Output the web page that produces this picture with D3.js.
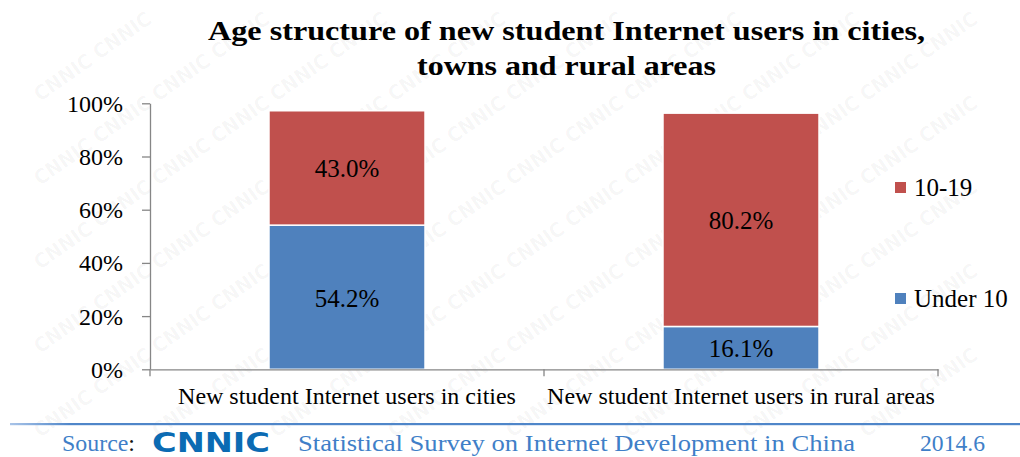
<!DOCTYPE html>
<html>
<head>
<meta charset="utf-8">
<script src="https://cdn.jsdelivr.net/npm/d3@7"></script>
<style>
  html, body { margin: 0; padding: 0; background: #fff; }
  svg { display: block; }
</style>
</head>
<body>
<svg id="chart" width="1020" height="457"></svg>
<script>
// ---- data ----
const categories = ["New student Internet users in cities", "New student Internet users in rural areas"];
const seriesNames = ["Under 10", "10-19"];
const under10 = [54.2, 16.1];
const age10to19 = [43.0, 80.2];
const yTicks = [0, 20, 40, 60, 80, 100];
const titleLines = ["Age structure of new student Internet users in cities,", "towns and rural areas"];
const sourceTitle = "Statistical Survey on Internet Development in China";
const sourceDate = "2014.6";

const colors = { "Under 10": "#4f81bd", "10-19": "#c0504d" };
const SERIF = "'Liberation Serif', 'Times New Roman', serif";
const SANS = "'DejaVu Sans', 'Liberation Sans', sans-serif";

const svg = d3.select("#chart").style("font-family", SERIF);
const W = 1020, H = 457;

// ---- faint CNNIC watermark tiles, kept fully inside the canvas ----
const wm = svg.append("g").attr("fill", "#000").attr("fill-opacity", 0.04);
const wmSpots = [];
for (let r = 0; r < 12; r++) {
  for (let c = 0; c < 12; c++) {
    const px = c * 118 + (r % 2) * 59 + 40;
    const py = r * 42 + 18;
    if (px <= W - 72 && py >= 58 && py <= H - 8) wmSpots.push([px, py]);
  }
}
wm.selectAll("text").data(wmSpots).join("text")
  .attr("transform", d => `translate(${d[0]},${d[1]}) rotate(-35)`)
  .attr("font-weight", "bold")
  .attr("font-size", 20)
  .attr("textLength", 66)
  .attr("lengthAdjust", "spacingAndGlyphs")
  .style("font-family", SANS)
  .text("CNNIC");

// ---- layout ----
const plot = { left: 150, right: 938, top: 103.3, bottom: 369.3 };

const x = d3.scaleBand().domain(categories).range([plot.left, plot.right]).padding(0);
const y = d3.scaleLinear().domain([0, 100]).range([plot.bottom, plot.top]);
const barW = x.step() * 0.396;

// ---- title ----
const title = svg.append("g").attr("font-weight", "bold").attr("font-size", 28).attr("fill", "#000");
title.append("text").attr("x", 208).attr("y", 40).style("font-family", SERIF)
  .attr("textLength", 717).attr("lengthAdjust", "spacingAndGlyphs").text(titleLines[0]);
title.append("text").attr("x", 417).attr("y", 75).style("font-family", SERIF)
  .attr("textLength", 299).attr("lengthAdjust", "spacingAndGlyphs").text(titleLines[1]);

// ---- stacked bars ----
const rows = categories.map((c, i) => ({ cat: c, "Under 10": under10[i], "10-19": age10to19[i] }));
const stacked = d3.stack().keys(seriesNames)(rows);

const barsG = svg.append("g");
stacked.forEach(layer => {
  const key = layer.key;
  const g = barsG.append("g");
  g.selectAll("rect").data(layer).join("rect")
    .attr("x", d => x(d.data.cat) + (x.step() - barW) / 2)
    .attr("y", d => y(d[1]))
    .attr("width", barW)
    .attr("height", d => y(d[0]) - y(d[1]))
    .attr("fill", colors[key])
    .attr("stroke", "#fff")
    .attr("stroke-width", 1.5);
  g.selectAll("text").data(layer).join("text")
    .attr("x", d => x(d.data.cat) + x.step() / 2)
    .attr("y", d => (y(d[0]) + y(d[1])) / 2 + 9.5)
    .attr("text-anchor", "middle")
    .attr("font-size", 25)
    .attr("fill", "#000")
    .style("font-family", SERIF)
    .text(d => d.data[key].toFixed(1) + "%");
});

// ---- y axis ----
const yAxis = svg.append("g").attr("transform", `translate(${plot.left},0)`)
  .call(d3.axisLeft(y).tickValues(yTicks).tickFormat(d => d + "%").tickSize(8).tickSizeOuter(0));
yAxis.select(".domain").attr("stroke", "#868686").attr("stroke-width", 1.3);
yAxis.selectAll(".tick line").attr("stroke", "#868686").attr("stroke-width", 1.3);
yAxis.selectAll(".tick text")
  .attr("x", -27).attr("dy", "0.33em")
  .attr("font-size", 24).attr("fill", "#000")
  .style("font-family", SERIF);

// ---- x axis ----
const xAxis = svg.append("g").attr("transform", `translate(0,${plot.bottom})`)
  .call(d3.axisBottom(x).tickSize(0).tickSizeOuter(0));
xAxis.select(".domain").attr("stroke", "#868686").attr("stroke-width", 1.3);
xAxis.selectAll(".tick text")
  .attr("y", 35).attr("dy", 0)
  .attr("font-size", 24).attr("fill", "#000")
  .style("font-family", SERIF);
// category boundary ticks
const edges = [x(categories[0]), ...categories.map(c => x(c) + x.step())];
xAxis.selectAll(".edge").data(edges).join("line").attr("class", "edge")
  .attr("x1", d => d).attr("x2", d => d).attr("y1", 0).attr("y2", 7)
  .attr("stroke", "#868686").attr("stroke-width", 1.3);

// ---- legend ----
const legendItems = ["10-19", "Under 10"];
const legend = svg.append("g").attr("transform", "translate(895,182)");
const li = legend.selectAll("g").data(legendItems).join("g")
  .attr("transform", (d, i) => `translate(0,${i * 111})`);
li.append("rect").attr("width", 11).attr("height", 11).attr("fill", d => colors[d]);
li.append("text").attr("x", 19).attr("y", 13.5).attr("font-size", 25).attr("fill", "#000")
  .style("font-family", SERIF).text(d => d);

// ---- footer ----
const grad = svg.append("defs").append("linearGradient").attr("id", "rule").attr("x1", "0").attr("x2", "1");
grad.append("stop").attr("offset", "0").attr("stop-color", "#a9c4e8");
grad.append("stop").attr("offset", "0.06").attr("stop-color", "#4f86c9");
grad.append("stop").attr("offset", "1").attr("stop-color", "#4f86c9");
svg.append("rect").attr("x", 10).attr("y", 423).attr("width", W - 10).attr("height", 2.2).attr("fill", "url(#rule)");

const foot = svg.append("g").attr("font-size", 23);
const src = foot.append("text").attr("x", 62).attr("y", 451).style("font-family", SERIF)
  .attr("textLength", 73).attr("lengthAdjust", "spacingAndGlyphs");
src.append("tspan").attr("fill", "#3f7fc8").text("Source");
src.append("tspan").attr("fill", "#111").text(":");

foot.append("text").attr("x", 152).attr("y", 452)
  .attr("font-size", 27).attr("font-weight", "bold")
  .style("font-family", SANS)
  .attr("fill", "#0b6bb3")
  .attr("textLength", 118).attr("lengthAdjust", "spacingAndGlyphs")
  .text("CNNIC");

foot.append("text").attr("x", 298).attr("y", 451).attr("fill", "#3f7fc8").style("font-family", SERIF)
  .attr("textLength", 557).attr("lengthAdjust", "spacingAndGlyphs").text(sourceTitle);
foot.append("text").attr("x", 920).attr("y", 451).attr("fill", "#3f7fc8").style("font-family", SERIF)
  .attr("textLength", 65).attr("lengthAdjust", "spacingAndGlyphs").text(sourceDate);
</script>
</body>
</html>
